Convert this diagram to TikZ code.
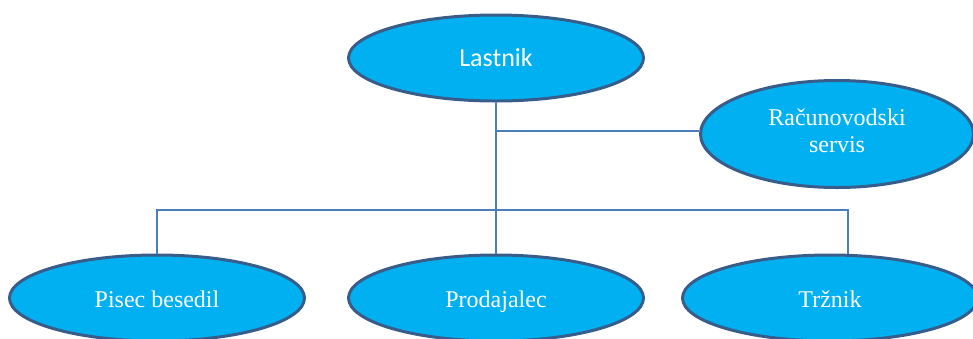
\documentclass[tikz,border=0pt]{standalone}
\usepackage{fontspec}
\setmainfont{Liberation Serif}
\newfontfamily\calibrifont{Carlito}
\usetikzlibrary{shapes.geometric}
\definecolor{bubblefill}{HTML}{00B0F0}
\definecolor{bubbleedge}{HTML}{385D8A}
\definecolor{linkline}{HTML}{4A7EBB}
\begin{document}
\begin{tikzpicture}[x=1pt,y=-1pt,
  bubble/.style={ellipse, draw=bubbleedge, fill=bubblefill, line width=3pt,
    inner sep=0pt, text=white, align=center,
    font=\fontsize{24}{28}\selectfont,
    minimum width=295pt, minimum height=86pt},
  oneline/.style={text height=20pt, text depth=2pt},
  link/.style={draw=linkline, line width=1.5pt}]
  \useasboundingbox (0,0) rectangle (973,338);
  \clip (0,0) rectangle (973,338);

  % junction points of the connectors
  \coordinate (side) at (496,131);
  \coordinate (busL) at (157,210);
  \coordinate (busR) at (848,210);

  % bubbles
  \node[bubble, text height=19pt, text depth=2.5pt,
        font=\calibrifont\fontsize{26}{30}\selectfont] (own) at (496,58) {Lastnik};
  \node[bubble, minimum width=273pt, minimum height=107pt] (acc) at (837,134)
       {Računovodski\\[-1pt]servis\rule[-7pt]{0pt}{7pt}};
  \node[bubble, oneline] (wri) at (157,298) {Pisec besedil};
  \node[bubble, oneline] (sel) at (496,298) {Prodajalec};
  \node[bubble, oneline] (mkt) at (830,298) {Tržnik};

  % connectors
  \draw[link] (own.south) -- (sel.north);
  \draw[link] (side) -- (side -| acc.west);
  \draw[link] (wri.north) -- (busL) -- (busR) -- (busR |- mkt.north);
\end{tikzpicture}
\end{document}
